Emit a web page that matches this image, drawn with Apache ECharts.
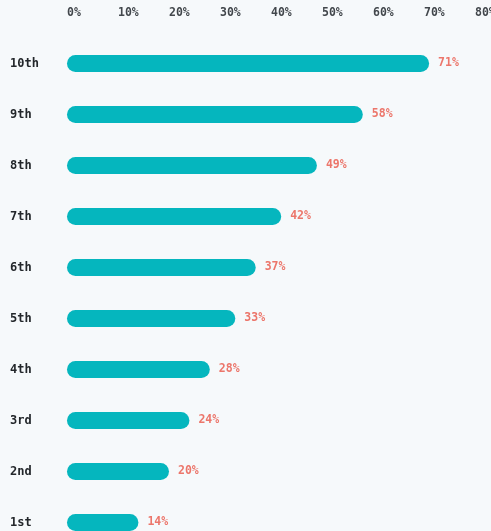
<!DOCTYPE html>
<html>
<head>
<meta charset="utf-8">
<script src="https://cdn.jsdelivr.net/npm/echarts@6/dist/echarts.min.js"></script>
<style>
  html, body { margin: 0; padding: 0; background: #f6f9fb; }
  #chart { width: 491px; height: 531px; }
</style>
</head>
<body>
<div id="chart"></div>
<script>
// Grade levels, bottom to top
const grades = ['1st', '2nd', '3rd', '4th', '5th', '6th', '7th', '8th', '9th', '10th'];
// Share for each grade, in percent
const shares = [14, 20, 24, 28, 33, 37, 42, 49, 58, 71];
// Percent axis ticks
const axisMin = 0;
const axisMax = 80;
const axisStep = 10;

const mono = '"DejaVu Sans Mono", "Liberation Mono", monospace';

const chart = echarts.init(document.getElementById('chart'));
chart.setOption({
  backgroundColor: '#f6f9fb',
  animation: false,
  grid: { left: 67, right: 16, top: 38, height: 510, outerBoundsMode: 'none', containLabel: false },
  xAxis: {
    type: 'value',
    position: 'top',
    min: axisMin,
    max: axisMax,
    interval: axisStep,
    axisLine: { show: false },
    axisTick: { show: false },
    splitLine: { show: false },
    axisLabel: {
      formatter: v => v + '%',
      align: 'left',
      margin: 19,
      fontFamily: mono,
      fontSize: 11.5,
      fontWeight: 'bold',
      color: '#42474c'
    }
  },
  yAxis: {
    type: 'category',
    data: grades,
    axisLine: { show: false },
    axisTick: { show: false },
    axisLabel: {
      align: 'left',
      margin: 57,
      fontFamily: mono,
      fontSize: 12,
      fontWeight: 'bold',
      color: '#23272b'
    }
  },
  series: [{
    type: 'bar',
    data: shares,
    barWidth: 17,
    itemStyle: { color: '#05b6be', borderRadius: 8.5 },
    label: {
      show: true,
      position: 'right',
      distance: 9,
      formatter: p => p.value + '%',
      fontFamily: mono,
      fontSize: 11.5,
      fontWeight: 'bold',
      color: '#ec766b'
    }
  }]
});
</script>
</body>
</html>
